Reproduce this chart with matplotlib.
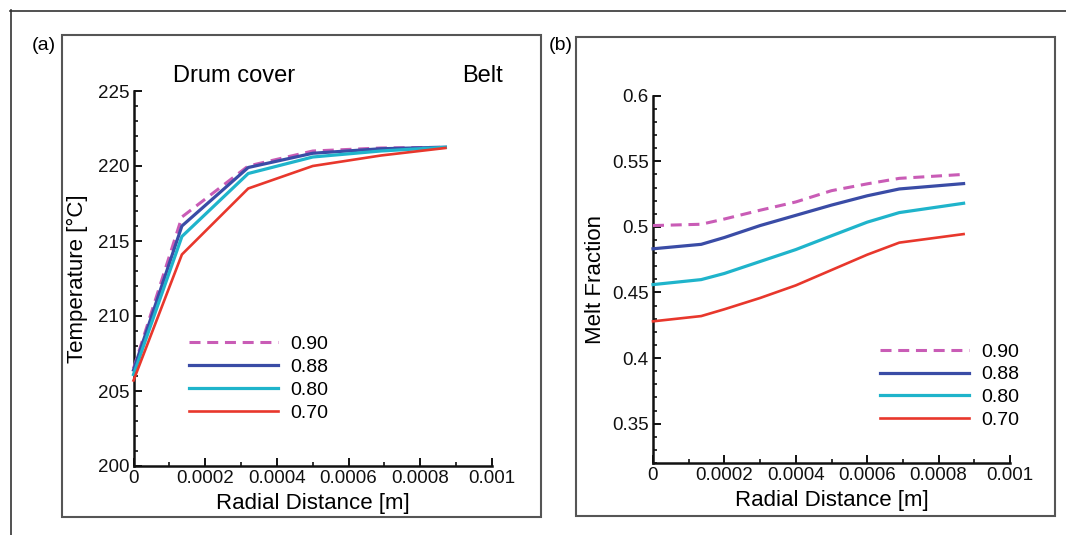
import numpy as np
import matplotlib
matplotlib.use('Agg')
import matplotlib.pyplot as plt
from matplotlib.patches import Rectangle
from matplotlib.lines import Line2D

plt.rcParams['font.family'] = ['Liberation Sans', 'DejaVu Sans']

W, H = 1066, 535

# data
labels = ['0.90', '0.88', '0.80', '0.70']
colors = ['#c95cb6', '#3a4ca6', '#1fb4cb', '#e8372c']

x_temp = [0, 0.000135, 0.00032, 0.0005, 0.00069, 0.00087]
temp_090 = [206.5, 216.6, 220.0, 221.0, 221.2, 221.25]
temp_088 = [206.4, 216.0, 219.9, 220.85, 221.15, 221.25]
temp_080 = [206.1, 215.3, 219.5, 220.6, 221.0, 221.25]
temp_070 = [205.7, 214.1, 218.5, 220.0, 220.7, 221.2]

x_melt = [0, 0.000135, 0.0002, 0.0003, 0.0004, 0.0005, 0.0006, 0.00069, 0.00087]
melt_090 = [0.501, 0.502, 0.506, 0.5127, 0.519, 0.5276, 0.5328, 0.537, 0.540]
melt_088 = [0.4833, 0.4867, 0.4919, 0.501, 0.5088, 0.5166, 0.5237, 0.5289, 0.533]
melt_080 = [0.456, 0.4598, 0.4645, 0.4736, 0.4827, 0.4932, 0.5036, 0.5109, 0.518]
melt_070 = [0.428, 0.432, 0.4372, 0.4458, 0.4554, 0.4671, 0.4788, 0.488, 0.4945]

xticks = [0, 0.0002, 0.0004, 0.0006, 0.0008, 0.001]
xticklabels = ['0', '0.0002', '0.0004', '0.0006', '0.0008', '0.001']
temp_ticks = [200, 205, 210, 215, 220, 225]
melt_ticks = [0.35, 0.4, 0.45, 0.5, 0.55, 0.6]
melt_ticklabels = ['0.35', '0.4', '0.45', '0.5', '0.55', '0.6']


def px_box(x0, y0, x1, y1):
    # pixel box (top-left origin) -> figure fraction rect
    return [x0 / W, (H - y1) / H, (x1 - x0) / W, (y1 - y0) / H]


def style_axes(ax):
    for s in ['top', 'right']:
        ax.spines[s].set_visible(False)
    for s in ['left', 'bottom']:
        ax.spines[s].set_linewidth(1.8)
        ax.spines[s].set_color('#111111')
    ax.tick_params(which='major', direction='in', length=6, width=1.4,
                   labelsize=13.5, colors='#111111', pad=3)
    ax.tick_params(which='minor', direction='in', length=3, width=1.2,
                   colors='#111111')
    ax.set_xlim(0, 0.001)
    ax.set_xticks(xticks)
    ax.set_xticklabels(xticklabels)
    ax.set_xticks(np.arange(1, 10, 2) * 0.0001, minor=True)


def draw_lines(ax, x, series):
    handles = []
    for lab, col, y in zip(labels, colors, series):
        if lab == '0.90':
            h, = ax.plot(x, y, color=col, lw=2.2, dashes=(3.6, 2.2), label=lab,
                         clip_on=False, zorder=3)
        elif lab == '0.70':
            h, = ax.plot(x, y, color=col, lw=1.9, label=lab, clip_on=False, zorder=4)
        else:
            h, = ax.plot(x, y, color=col, lw=2.3, label=lab, clip_on=False, zorder=4)
        handles.append(h)
    return handles


fig = plt.figure(figsize=(W / 100, H / 100), dpi=100)

# outer frame (top and left only) and panel boxes
fig.add_artist(Line2D([10 / W, 1], [1 - 10.5 / H] * 2, transform=fig.transFigure,
                      color='#333333', lw=1.2))
fig.add_artist(Line2D([10.5 / W] * 2, [0, 1 - 10 / H], transform=fig.transFigure,
                      color='#333333', lw=1.2))
for box in [(62, 34.5, 541, 516.5), (576, 37, 1055, 516)]:
    r = px_box(*box)
    fig.add_artist(Rectangle((r[0], r[1]), r[2], r[3], transform=fig.transFigure,
                             fill=False, edgecolor='#555555', lw=1.5))

# (a) temperature
ax1 = fig.add_axes(px_box(133.5, 91, 492, 466))
style_axes(ax1)
ax1.set_ylim(200, 225)
ax1.set_yticks(temp_ticks)
ax1.set_yticks(np.arange(200, 226, 1), minor=True)
h1 = draw_lines(ax1, x_temp, [temp_090, temp_088, temp_080, temp_070])
ax1.set_xlabel('Radial Distance [m]', fontsize=16, va='center')
ax1.xaxis.set_label_coords(0.5, -0.099)
ax1.set_ylabel('Temperature [°C]', fontsize=16, va='center')
ax1.yaxis.set_label_coords(-0.156, 0.5)
ax1.legend(handles=h1, loc='center left', frameon=False, fontsize=14,
           bbox_to_anchor=(189 / W, (H - 378.5) / H), bbox_transform=fig.transFigure,
           borderaxespad=0, borderpad=0, handlelength=4.6, handletextpad=0.6,
           labelspacing=0.27)

# (b) melt fraction
ax2 = fig.add_axes(px_box(653, 95.7, 1010, 463))
style_axes(ax2)
ax2.set_ylim(0.32, 0.6)
ax2.set_yticks(melt_ticks)
ax2.set_yticklabels(melt_ticklabels)
ax2.set_yticks(np.arange(32, 61, 1) / 100, minor=True)
h2 = draw_lines(ax2, x_melt, [melt_090, melt_088, melt_080, melt_070])
ax2.set_xlabel('Radial Distance [m]', fontsize=16, va='center')
ax2.xaxis.set_label_coords(0.5, -0.103)
ax2.set_ylabel('Melt Fraction', fontsize=16, va='center')
ax2.yaxis.set_label_coords(-0.162, 0.5)
ax2.legend(handles=h2, loc='center left', frameon=False, fontsize=14,
           bbox_to_anchor=(880 / W, (H - 386) / H), bbox_transform=fig.transFigure,
           borderaxespad=0, borderpad=0, handlelength=4.6, handletextpad=0.6,
           labelspacing=0.27)

fig.text(44 / W, 1 - 45 / H, '(a)', fontsize=14, ha='center', va='center')
fig.text(561 / W, 1 - 45 / H, '(b)', fontsize=14, ha='center', va='center')
fig.text(234 / W, 1 - 76 / H, 'Drum cover', fontsize=17, ha='center', va='center')
fig.text(482 / W, 1 - 76 / H, 'Belt', fontsize=17, ha='center', va='center')

fig.savefig('out.png', dpi=100)
